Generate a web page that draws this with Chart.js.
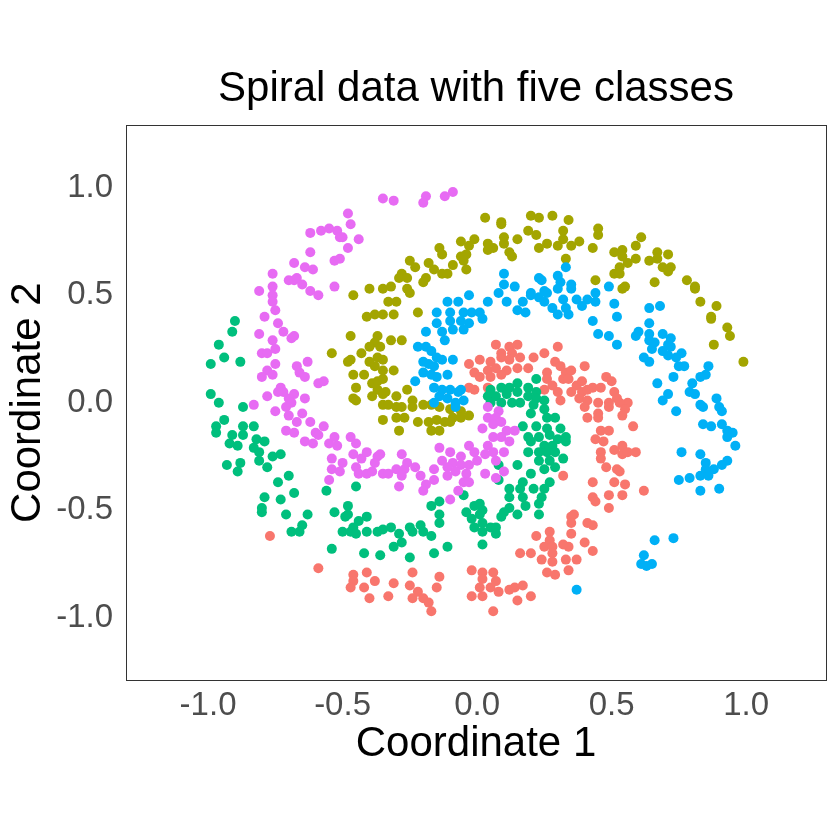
<!DOCTYPE html>
<html>
<head>
<meta charset="utf-8">
<script src="https://cdn.jsdelivr.net/npm/chart.js@4.4.1/dist/chart.umd.min.js"></script>
<style>
  html, body { margin: 0; padding: 0; background: #ffffff; }
  #spiral { display: block; }
</style>
</head>
<body>
<canvas id="spiral" width="840" height="840"></canvas>
<script>
// five spiral arms, points as [coord1, coord2]
const classNames = ['1', '2', '3', '4', '5'];
const classColors = ['#F8766D', '#A3A500', '#00BF7D', '#00B0F6', '#E76BF3'];
const tickValues = [-1, -0.5, 0, 0.5, 1];

const class1 = [
  [0.07,0.27],[0.12,0.26],[0.15,0.27],[0.09,0.23],[0.13,0.23],[0.25,0.23],[0.30,0.26],
  [-0.03,0.18],[0.01,0.20],[0.05,0.19],[0.09,0.21],[0.12,0.20],[0.16,0.21],[0.21,0.21],[0.29,0.19],
  [-0.01,0.14],[0.04,0.15],[0.07,0.16],[0.11,0.15],[0.15,0.16],[0.19,0.16],[0.26,0.14],[0.31,0.17],[0.33,0.14],
  [0.01,0.12],[0.05,0.12],[0.09,0.13],[-0.03,0.07],[-0.01,0.06],[0.04,0.07],
  [0.26,0.11],[0.28,0.08],[0.32,0.11],[0.30,0.05],[0.25,0.06],[0.31,0.01],
  [0.35,0.15],[0.40,0.17],[0.34,0.11],[0.37,0.08],[0.39,0.10],[0.43,0.07],[0.46,0.07],[0.48,0.12],[0.50,0.10],
  [0.35,0.05],[0.39,0.05],[0.41,0.06],[0.38,0.02],[0.41,0.01],[0.45,0.00],[0.51,0.05],[0.52,0.02],[0.56,0.00],[0.49,0.00],
  [0.32,-0.34],
  [0.49,-0.02],[0.53,0.00],[0.40,-0.02],[0.45,-0.05],[0.55,-0.03],[0.41,-0.07],[0.45,-0.07],[0.54,-0.06],[0.58,-0.11],
  [0.46,-0.13],[0.49,-0.13],[0.44,-0.17],[0.47,-0.18],[0.54,-0.20],[0.51,-0.22],[0.46,-0.23],[0.46,-0.26],[0.54,-0.24],[0.56,-0.23],[0.59,-0.23],
  [0.48,-0.30],[0.52,-0.31],[0.53,-0.32],[0.43,-0.37],[0.51,-0.37],[0.55,-0.38],[0.62,-0.41],[0.43,-0.44],[0.49,-0.43],[0.54,-0.43],[0.44,-0.46],[0.49,-0.49],[0.36,-0.52],
  [0.35,-0.53],[0.35,-0.56],[0.41,-0.56],[0.43,-0.57],[0.35,-0.61],[0.40,-0.65],[0.34,-0.67],[0.43,-0.69],[0.37,-0.73],[0.33,-0.73],[0.34,-0.78],
  [0.22,-0.62],[0.27,-0.60],[0.27,-0.64],[0.25,-0.67],[0.28,-0.67],[0.32,-0.66],[0.28,-0.70],[0.16,-0.70],[0.20,-0.70],[0.24,-0.73],[0.28,-0.74],[0.26,-0.79],[0.29,-0.80],
  [-0.02,-0.78],[0.02,-0.79],[0.06,-0.79],[0.02,-0.82],[0.07,-0.83],[0.01,-0.86],[0.05,-0.86],[0.08,-0.88],[0.12,-0.87],[0.14,-0.86],[0.17,-0.85],[0.20,-0.90],[0.15,-0.92],[-0.02,-0.90],[0.02,-0.90],[0.06,-0.97],
  [-0.24,-0.79],[-0.14,-0.81],[-0.15,-0.86],[-0.31,-0.84],[-0.25,-0.85],[-0.22,-0.88],[-0.24,-0.91],[-0.33,-0.90],[-0.20,-0.91],[-0.18,-0.93],[-0.17,-0.97],
  [-0.77,-0.62],[-0.59,-0.77],[-0.46,-0.80],[-0.46,-0.83],[-0.41,-0.79],[-0.38,-0.83],[-0.47,-0.86],[-0.42,-0.86],[-0.40,-0.91]
];

const class2 = [
  [-0.46,0.50],[-0.40,0.53],[-0.35,0.53],
  [0.03,0.86],[0.09,0.84],[0.09,0.83],[0.20,0.87],[0.23,0.86],[0.28,0.87],[0.34,0.85],[0.19,0.80],[0.22,0.78],[0.32,0.80],[0.32,0.76],
  [0.26,0.74],[0.30,0.73],[0.23,0.72],[0.15,0.76],[0.10,0.77],[0.10,0.74],[0.12,0.70],[0.13,0.68],[0.06,0.72],[0.04,0.74],[0.04,0.71],
  [-0.01,0.76],[-0.03,0.73],[-0.06,0.75],[-0.14,0.72],[-0.13,0.69],[-0.06,0.68],[-0.04,0.69],[-0.05,0.66],[-0.09,0.64],[-0.04,0.62],
  [-0.18,0.65],[-0.16,0.62],[-0.13,0.60],[-0.11,0.60],[-0.25,0.66],[-0.23,0.63],[-0.28,0.60],[-0.29,0.58],[-0.26,0.58],[-0.19,0.58],
  [-0.20,0.56],[-0.32,0.54],[-0.26,0.53],[0.33,0.67],
  [0.45,0.81],[0.45,0.78],[0.38,0.75],[0.35,0.73],[0.43,0.72],[0.61,0.77],[0.59,0.73],[0.51,0.70],[0.54,0.71],[0.54,0.68],[0.59,0.67],
  [0.56,0.65],[0.64,0.66],[0.67,0.70],[0.71,0.69],[0.67,0.67],[0.53,0.63],[0.51,0.60],[0.53,0.60],[0.69,0.63],[0.72,0.63],[0.71,0.61],
  [0.44,0.57],[0.55,0.54],[0.66,0.56],[0.78,0.57],[0.81,0.54],
  [0.83,0.47],[0.89,0.45],[0.87,0.40],[0.87,0.39],[0.93,0.35],[0.94,0.31],[0.88,0.27],[0.99,0.19],[0.54,0.53],[0.81,0.53],
  [-0.41,0.40],[-0.38,0.41],[-0.35,0.41],[-0.47,0.31],[-0.37,0.31],[-0.38,0.28],[-0.40,0.26],[-0.36,0.26],[-0.43,0.23],[-0.54,0.23],
  [-0.47,0.20],[-0.48,0.19],[-0.40,0.19],[-0.37,0.21],[-0.38,0.17],[-0.35,0.15],[-0.46,0.13],[-0.42,0.13],[-0.39,0.09],[-0.37,0.10],
  [-0.45,0.07],[-0.37,0.06],[-0.39,0.03],[-0.46,0.02],[-0.35,0.04],
  [-0.25,0.51],[-0.33,0.47],[-0.30,0.47],[-0.31,0.41],[-0.22,0.42],[-0.32,0.29],[-0.28,0.29],[-0.35,0.20],[-0.31,0.15],[-0.35,0.11],
  [-0.34,0.05],[-0.26,0.06],[-0.30,0.03],[-0.24,0.01],
  [-0.45,0.01],[-0.35,-0.01],[-0.35,-0.08],
  [-0.33,-0.01],[-0.30,-0.02],[-0.28,-0.02],[-0.24,-0.02],[-0.20,-0.01],[-0.17,-0.01],[-0.14,-0.02],[-0.10,-0.03],[-0.06,-0.04],[-0.03,-0.06],
  [-0.30,-0.07],[-0.27,-0.07],[-0.22,-0.09],[-0.18,-0.09],[-0.15,-0.08],[-0.12,-0.09],[-0.09,-0.07],[-0.06,-0.07],[-0.29,-0.13],[-0.17,-0.13],
  [-0.14,-0.13],[-0.10,-0.09]
];

const class3 = [
  [0.22,0.11],[0.05,0.06],[0.09,0.07],[0.12,0.07],[0.15,0.09],[0.19,0.07],[0.22,0.05],[0.04,0.03],[0.07,0.03],[0.11,0.04],[0.15,0.05],
  [0.19,0.03],[0.22,0.02],[0.25,0.01],[0.16,0.00],[0.05,0.00],[0.09,0.00],[0.13,0.00],[0.21,-0.01],
  [0.25,-0.03],[0.20,-0.05],[0.26,-0.07],[0.29,-0.07],[0.17,-0.11],[0.22,-0.11],[0.26,-0.12],[0.31,-0.12],[0.19,-0.16],[0.23,-0.16],
  [0.27,-0.15],[0.30,-0.17],[0.33,-0.18],[0.20,-0.18],[0.25,-0.20],[0.28,-0.20],[0.19,-0.23],[0.23,-0.23],[0.26,-0.23],[0.29,-0.23],
  [0.23,-0.27],[0.27,-0.27],[0.32,-0.26],[0.08,-0.29],[0.15,-0.29],[0.25,-0.31],[0.29,-0.30],[0.20,-0.33],[0.08,-0.36],[0.17,-0.37],
  [0.27,-0.37],[0.12,-0.40],[0.16,-0.40],[0.21,-0.40],[0.25,-0.40],[0.12,-0.44],[0.17,-0.44],[0.24,-0.44],[0.33,-0.16],
  [-0.05,-0.43],[-0.14,-0.46],[-0.17,-0.48],[-0.01,-0.48],[0.01,-0.47],[-0.04,-0.51],[0.02,-0.50],[0.12,-0.49],[0.18,-0.48],[0.23,-0.47],
  [0.10,-0.51],[0.15,-0.52],
  [-0.35,-0.59],[-0.32,-0.58],[-0.29,-0.61],[-0.28,-0.65],[-0.25,-0.58],[-0.24,-0.60],[-0.21,-0.57],[-0.20,-0.60],[-0.17,-0.62],[-0.14,-0.56],
  [-0.14,-0.52],[-0.31,-0.67],[-0.25,-0.72],[-0.16,-0.70],[-0.11,-0.67],[-0.02,-0.54],[-0.01,-0.58],[0.01,-0.52],[0.02,-0.56],[0.05,-0.58],
  [0.07,-0.58],[0.02,-0.60],[0.07,-0.61],[0.09,-0.53],[0.02,-0.66],[0.23,-0.52],[-0.36,-0.71],
  [-0.80,-0.51],[-0.71,-0.52],[-0.63,-0.52],[-0.65,-0.57],[-0.69,-0.60],[-0.66,-0.60],[-0.53,-0.51],[-0.48,-0.52],[-0.49,-0.53],[-0.44,-0.55],
  [-0.46,-0.58],[-0.50,-0.60],[-0.47,-0.60],[-0.45,-0.61],[-0.41,-0.53],[-0.41,-0.60],[-0.37,-0.60],[-0.54,-0.68],[-0.42,-0.70],
  [-0.96,0.00],[-0.87,-0.02],[-0.94,-0.08],[-0.97,-0.11],[-0.97,-0.14],[-0.87,-0.11],[-0.83,-0.11],[-0.91,-0.15],[-0.87,-0.15],[-0.92,-0.19],
  [-0.89,-0.20],[-0.82,-0.17],[-0.79,-0.18],[-0.83,-0.21],[-0.81,-0.23],[-0.81,-0.27],[-0.76,-0.25],[-0.73,-0.24],[-0.93,-0.29],[-0.88,-0.28],
  [-0.89,-0.32],[-0.78,-0.30],[-0.70,-0.34],[-0.74,-0.37],[-0.56,-0.41],[-0.45,-0.39],[-0.68,-0.42],[-0.79,-0.44],[-0.73,-0.45],[-0.80,-0.49],
  [-0.48,-0.48],
  [-0.90,0.38],[-0.91,0.33],[-0.96,0.27],[-0.94,0.21],[-0.99,0.18],[-0.88,0.19],[-0.99,0.04]
];

const class4 = [
  [0.10,0.60],[0.10,0.55],[0.14,0.54],[0.23,0.58],[0.24,0.57],[0.30,0.59],[0.31,0.56],[0.30,0.53],[0.33,0.63],[0.08,0.51],[-0.03,0.50],
  [0.20,0.51],[0.25,0.52],[0.35,0.55],[0.35,0.53],[0.49,0.54],[0.44,0.51],
  [-0.07,0.47],[-0.11,0.47],[0.04,0.47],[0.11,0.47],[-0.02,0.42],[-0.05,0.42],[0.01,0.42],[0.02,0.39],[-0.15,0.42],[-0.10,0.42],
  [-0.10,0.38],[-0.06,0.38],[-0.03,0.37],[-0.15,0.37],[-0.13,0.33],[-0.09,0.34],[-0.05,0.34],[-0.19,0.33],[-0.12,0.29],
  [0.15,0.43],[0.17,0.47],[0.20,0.50],[0.23,0.49],[0.26,0.51],[0.18,0.42],[0.25,0.47],[0.28,0.44],[0.32,0.48],[0.30,0.41],[0.33,0.44],
  [-0.22,0.26],[-0.19,0.26],[-0.17,0.24],[-0.15,0.21],[-0.20,0.19],[-0.18,0.18],[-0.16,0.17],[-0.13,0.20],[-0.09,0.20],[-0.20,0.14],
  [-0.17,0.13],[-0.15,0.12],[-0.11,0.13],[-0.23,0.10],[-0.16,0.07],[-0.13,0.06],[-0.10,0.06],[-0.07,0.05],[-0.06,0.06],[-0.14,0.03],
  [-0.11,0.02],[-0.08,0.00],[-0.05,0.01],[-0.16,0.00],[-0.08,-0.02],
  [0.37,0.48],[0.41,0.48],[0.44,0.47],[0.39,0.45],[0.34,0.41],[0.51,0.46],[0.52,0.40],[0.43,0.38],[0.64,0.44],[0.68,0.45],[0.64,0.37],
  [0.45,0.32],[0.49,0.31],[0.52,0.27],[0.60,0.33],[0.59,0.31],[0.64,0.32],[0.64,0.29],[0.66,0.28],[0.69,0.32],[0.72,0.30],[0.71,0.27],
  [0.65,0.25],[0.69,0.24],[0.72,0.26],[0.76,0.23],[0.71,0.22],[0.74,0.21],[0.62,0.21],[0.64,0.19],[0.75,0.17],[0.77,0.17],[0.86,0.17],
  [0.85,0.13],[0.83,0.12],[0.73,0.12],[0.80,0.09],[0.67,0.09],[0.79,0.05],[0.81,0.04],[0.71,0.04],[0.69,0.01],[0.89,0.02],[0.83,-0.01],
  [0.74,-0.04],[0.84,-0.02],[0.90,-0.02],[0.91,-0.04],[0.84,-0.10],[0.87,-0.11],[0.91,-0.10],[0.93,-0.13],[0.95,-0.14],[0.93,-0.16],
  [0.96,-0.20],[0.76,-0.23],[0.83,-0.24],[0.85,-0.28],[0.93,-0.27],[0.91,-0.29],[0.88,-0.31],[0.85,-0.31],[0.83,-0.34],[0.86,-0.34],
  [0.75,-0.36],[0.79,-0.35],[0.90,-0.40],[0.83,-0.41],
  [0.66,-0.64],[0.73,-0.63],[0.62,-0.71],[0.61,-0.75],[0.63,-0.76],[0.65,-0.75],[0.37,-0.87]
];

const class5 = [
  [-0.35,0.95],[-0.48,0.88],[-0.47,0.83],[-0.62,0.79],[-0.58,0.80],[-0.55,0.81],[-0.52,0.80],[-0.51,0.77],[-0.50,0.77],[-0.44,0.76],
  [-0.62,0.70],[-0.48,0.72],[-0.53,0.66],[-0.51,0.67],[-0.68,0.65],[-0.64,0.63],[-0.61,0.62],[-0.76,0.60],[-0.70,0.57],[-0.68,0.57],
  [-0.67,0.58],[-0.65,0.55],[-0.76,0.54],[-0.53,0.54],[-0.81,0.52],[-0.62,0.52],[-0.59,0.50],
  [-0.31,0.94],[-0.19,0.96],[-0.20,0.93],[-0.12,0.96],[-0.09,0.98],
  [-0.76,0.50],[-0.76,0.47],[-0.75,0.43],[-0.79,0.40],[-0.74,0.37],[-0.72,0.33],[-0.81,0.32],[-0.76,0.29],[-0.68,0.31],[-0.69,0.30],
  [-0.75,0.25],[-0.80,0.23],[-0.78,0.23],[-0.63,0.19],[-0.75,0.18],[-0.78,0.15],[-0.76,0.13],[-0.80,0.12],[-0.67,0.17],[-0.66,0.14],
  [-0.64,0.12],[-0.59,0.09],[-0.57,0.10],[-0.73,0.07],[-0.72,0.05],[-0.74,0.05],[-0.68,0.04],[-0.70,0.02],[-0.78,0.03],[-0.64,0.02],
  [-0.83,-0.01],
  [-0.75,-0.04],[-0.71,-0.02],[-0.70,-0.06],[-0.69,0.00],[-0.65,-0.05],[-0.67,-0.09],[-0.62,-0.09],[-0.71,-0.13],[-0.68,-0.14],[-0.64,-0.18],
  [-0.60,-0.14],[-0.59,-0.15],[-0.57,-0.11],[-0.61,-0.19],[-0.55,-0.19],[-0.53,-0.16],[-0.52,-0.20],[-0.47,-0.16],[-0.45,-0.19],[-0.54,-0.26],
  [-0.50,-0.28],[-0.46,-0.24],[-0.43,-0.26],[-0.41,-0.23],[-0.37,-0.25],[-0.38,-0.28],[-0.54,-0.31],[-0.51,-0.32],[-0.45,-0.30],[-0.44,-0.33],
  [-0.41,-0.33],[-0.39,-0.32],[-0.35,-0.33],[-0.55,-0.36],
  [0.04,-0.02],[0.08,-0.04],[0.04,-0.07],[0.07,-0.07],[0.06,-0.10],[0.09,-0.09],[0.02,-0.12],[0.11,-0.13],[0.14,-0.13],[0.06,-0.16],
  [0.09,-0.16],[0.12,-0.18],[0.04,-0.20],[-0.03,-0.20],[-0.01,-0.23],[0.06,-0.23],[0.10,-0.23],[0.03,-0.24],[0.07,-0.27],[0.00,-0.27],
  [-0.14,-0.21],[-0.10,-0.23],[-0.06,-0.25],[-0.09,-0.28],[-0.06,-0.29],[-0.03,-0.29],[-0.28,-0.24],[-0.26,-0.28],[-0.16,-0.31],[-0.13,-0.27],
  [-0.11,-0.30],[-0.08,-0.32],[-0.04,-0.33],[-0.11,-0.34],[0.03,-0.33],[0.10,-0.32],[0.07,-0.35],[-0.33,-0.33],[-0.30,-0.31],[-0.27,-0.31],
  [-0.23,-0.30],[-0.21,-0.34],[-0.28,-0.34],[-0.16,-0.36],[-0.19,-0.38],[-0.20,-0.41],[-0.29,-0.39],[-0.05,-0.37],[-0.03,-0.37],[-0.07,-0.41],
  [-0.10,-0.45],[-0.36,-0.24]
];

const classPoints = [class1, class2, class3, class4, class5];

const fontFamily = '"Liberation Sans", Arial, sans-serif';

// ggplot-style box round the panel
const panelBorder = {
  id: 'panelBorder',
  afterDraw(chart) {
    const { ctx, chartArea } = chart;
    ctx.save();
    ctx.strokeStyle = '#333333';
    ctx.lineWidth = 1;
    ctx.strokeRect(Math.round(chartArea.left) + 0.5, Math.round(chartArea.top) + 0.5,
      Math.round(chartArea.right - chartArea.left), Math.round(chartArea.bottom - chartArea.top));
    ctx.restore();
  }
};

const datasets = classNames.map((name, i) => ({
  label: name,
  data: classPoints[i].map(p => ({ x: p[0], y: p[1] })),
  backgroundColor: classColors[i],
  pointRadius: 5,
  pointHoverRadius: 5,
  pointBorderWidth: 0,
  order: classNames.length - i
}));

const useTicks = scale => { scale.ticks = tickValues.map(v => ({ value: v })); };

new Chart(document.getElementById('spiral'), {
  type: 'scatter',
  data: { datasets: datasets },
  options: {
    responsive: false,
    animation: false,
    layout: { padding: { left: 0, right: 14, top: 0, bottom: 0 } },
    plugins: {
      legend: { display: false },
      tooltip: { enabled: false },
      title: {
        display: true,
        text: 'Spiral data with five classes',
        fullSize: false,
        color: '#000000',
        font: { family: fontFamily, size: 42, weight: 'normal' },
        padding: { top: 64, bottom: 11 }
      }
    },
    scales: {
      x: {
        type: 'linear',
        min: -1.305,
        max: 1.297,
        afterBuildTicks: useTicks,
        afterFit: s => { s.height = 160; },
        grid: { display: false, drawTicks: false },
        border: { display: false },
        ticks: {
          color: '#4d4d4d',
          padding: 6,
          font: { family: fontFamily, size: 33 },
          callback: v => v.toFixed(1)
        },
        title: {
          display: true,
          text: 'Coordinate 1',
          color: '#000000',
          font: { family: fontFamily, size: 42 },
          padding: { top: 0, bottom: 70 }
        }
      },
      y: {
        type: 'linear',
        min: -1.29,
        max: 1.29,
        afterBuildTicks: useTicks,
        afterFit: s => { s.width = 126; },
        grid: { display: false, drawTicks: false },
        border: { display: false },
        ticks: {
          color: '#4d4d4d',
          padding: 13,
          font: { family: fontFamily, size: 33 },
          callback: v => v.toFixed(1)
        },
        title: {
          display: true,
          text: 'Coordinate 2',
          color: '#000000',
          font: { family: fontFamily, size: 42 },
          padding: { top: 3, bottom: 0 }
        }
      }
    }
  },
  plugins: [panelBorder]
});
</script>
</body>
</html>
